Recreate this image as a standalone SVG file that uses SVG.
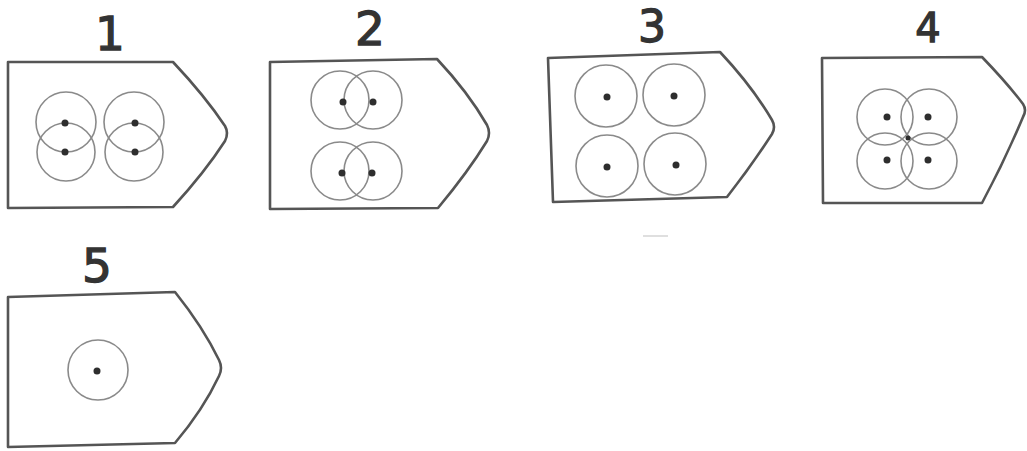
<svg xmlns="http://www.w3.org/2000/svg" width="1027" height="451" viewBox="0 0 1027 451">
<style>
.plate{fill:#fff;stroke:#555;stroke-width:2.6;stroke-linejoin:round}
.ring{fill:none;stroke:#8a8a8a;stroke-width:1.6}
.dot{fill:#2e2e2e}
.lbl{font-family:"DejaVu Sans",sans-serif;fill:#333;stroke:#333;stroke-width:1.3;text-anchor:middle}
</style>
<rect width="1027" height="451" fill="#fff"/>
<g id="node1">
<text class="lbl" x="110" y="50" font-size="47">1</text>
<path class="plate" d="M8,62 L173,62 Q205,96 225,126 Q229,133 225,141 Q205,172 173,207 L8,208 Z"/>
<circle class="ring" cx="66" cy="122" r="30"/>
<circle class="ring" cx="66" cy="152" r="29"/>
<circle class="ring" cx="134" cy="122" r="30"/>
<circle class="ring" cx="134" cy="152" r="29"/>
<circle class="dot" cx="65" cy="123" r="3.5"/>
<circle class="dot" cx="65" cy="152" r="3.5"/>
<circle class="dot" cx="135" cy="123" r="3.5"/>
<circle class="dot" cx="135" cy="152" r="3.5"/>
</g>
<g id="node2">
<text class="lbl" x="370" y="45" font-size="47">2</text>
<path class="plate" d="M270,62 L437,59 Q468,92 487,125 Q491,133 487,141 Q468,172 438,208 L270,209 Z"/>
<circle class="ring" cx="340" cy="100" r="29"/>
<circle class="ring" cx="373" cy="100" r="29"/>
<circle class="ring" cx="340" cy="171" r="29"/>
<circle class="ring" cx="373" cy="171" r="29"/>
<circle class="dot" cx="343" cy="102" r="3.5"/>
<circle class="dot" cx="373" cy="102" r="3.5"/>
<circle class="dot" cx="342" cy="173" r="3.5"/>
<circle class="dot" cx="372" cy="173" r="3.5"/>
</g>
<g id="node3">
<text class="lbl" x="652" y="42" font-size="44">3</text>
<path class="plate" d="M548,58 L720,52 Q752,86 772,120 Q776,127 772,134 Q752,165 727,197 L553,202 Z"/>
<circle class="ring" cx="606" cy="96" r="31"/>
<circle class="ring" cx="674" cy="95" r="31"/>
<circle class="ring" cx="607" cy="166" r="31"/>
<circle class="ring" cx="675" cy="164" r="31"/>
<circle class="dot" cx="607" cy="97" r="3.5"/>
<circle class="dot" cx="674" cy="96" r="3.5"/>
<circle class="dot" cx="607" cy="167" r="3.5"/>
<circle class="dot" cx="676" cy="165" r="3.5"/>
<line x1="643" y1="236" x2="668" y2="236" stroke="#d4d4d4" stroke-width="1.5"/>
</g>
<g id="node4">
<text class="lbl" x="928" y="42" font-size="40">4</text>
<path class="plate" d="M822,58 L982,57 Q1008,84 1023,104 Q1027,110 1023,117 Q1005,160 982,203 L823,203 Z"/>
<circle class="ring" cx="885" cy="117" r="28"/>
<circle class="ring" cx="929" cy="117" r="28"/>
<circle class="ring" cx="885" cy="161" r="28"/>
<circle class="ring" cx="929" cy="161" r="28"/>
<circle class="dot" cx="887" cy="117" r="3.5"/>
<circle class="dot" cx="928" cy="117" r="3.5"/>
<circle class="dot" cx="887" cy="160" r="3.5"/>
<circle class="dot" cx="928" cy="160" r="3.5"/>
<circle class="dot" cx="908" cy="138" r="2.5"/>
</g>
<g id="node5">
<text class="lbl" x="97" y="282" font-size="47">5</text>
<path class="plate" d="M8,297 L175,292 Q203,327 219,360 Q223,368 219,376 Q203,410 175,443 L8,447 Z"/>
<circle class="ring" cx="98" cy="370" r="30"/>
<circle class="dot" cx="97" cy="371" r="3.5"/>
</g>
<g id="connectors"/>
</svg>
